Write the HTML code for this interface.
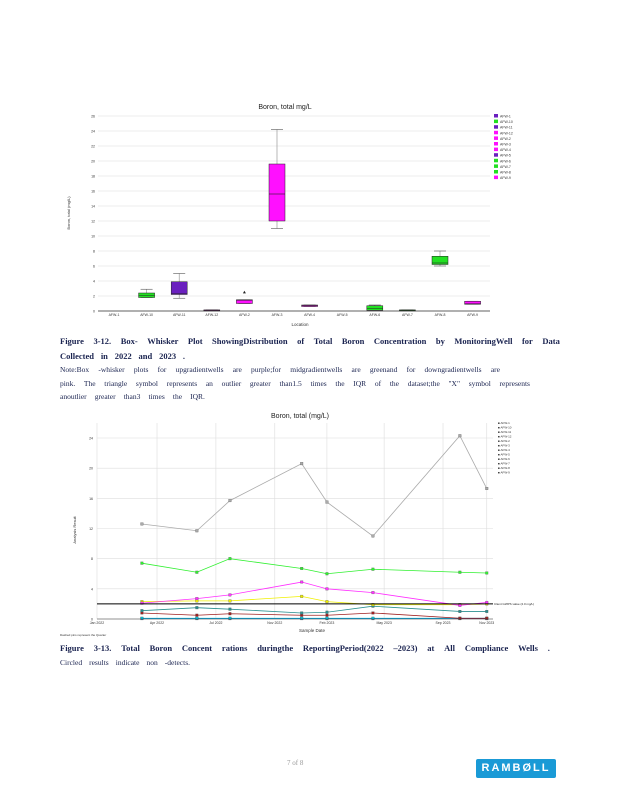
<!DOCTYPE html>
<html><head><meta charset="utf-8">
<style>
body{margin:0;background:#fff;}
#page{position:relative;width:618px;height:800px;overflow:hidden;background:#fff;font-family:"Liberation Serif",serif;color:#1a2350;}
.line{position:absolute;left:60px;width:500px;display:flex;justify-content:space-between;font-size:7.5px;white-space:nowrap;}
.cap{font-weight:bold;font-size:8.5px;}
svg text{font-family:"Liberation Sans",sans-serif;}
</style></head>
<body>
<div id="page">
<svg id="c1" width="618" height="800" style="position:absolute;left:0;top:0"></svg>

<div class="line cap" style="top:336px"><span>Figure</span><span>3-12.</span><span>Box-</span><span>Whisker</span><span>Plot</span><span>ShowingDistribution</span><span>of</span><span>Total</span><span>Boron</span><span>Concentration</span><span>by</span><span>MonitoringWell</span><span>for</span><span>Data</span></div>
<div class="line cap" style="top:351px;width:125px"><span>Collected</span><span>in</span><span>2022</span><span>and</span><span>2023</span><span>.</span></div>
<div class="line" style="top:365px;width:440px"><span>Note:Box</span><span>-whisker</span><span>plots</span><span>for</span><span>upgradientwells</span><span>are</span><span>purple;for</span><span>midgradientwells</span><span>are</span><span>greenand</span><span>for</span><span>downgradientwells</span><span>are</span></div>
<div class="line" style="top:379px;width:470px"><span>pink.</span><span>The</span><span>triangle</span><span>symbol</span><span>represents</span><span>an</span><span>outlier</span><span>greater</span><span>than1.5</span><span>times</span><span>the</span><span>IQR</span><span>of</span><span>the</span><span>dataset;the</span><span>"X"</span><span>symbol</span><span>represents</span></div>
<div class="line" style="top:392px;width:145px"><span>anoutlier</span><span>greater</span><span>than3</span><span>times</span><span>the</span><span>IQR.</span></div>

<div class="line cap" style="top:643px;width:490px"><span>Figure</span><span>3-13.</span><span>Total</span><span>Boron</span><span>Concent</span><span>rations</span><span>duringthe</span><span>ReportingPeriod(2022</span><span>–2023)</span><span>at</span><span>All</span><span>Compliance</span><span>Wells</span><span>.</span></div>
<div class="line" style="top:658px;width:130px"><span>Circled</span><span>results</span><span>indicate</span><span>non</span><span>-detects.</span></div>

<div style="position:absolute;left:287px;top:759px;font-size:7px;color:#999">7 of 8</div>
<div style="position:absolute;left:476px;top:759px;width:80px;height:19px;background:#1a9ad6;border-radius:2px;color:#fff;font:bold 11px 'Liberation Sans',sans-serif;letter-spacing:2px;text-align:center;line-height:19px">RAMBØLL</div>
</div>
<script>
// ===== Chart 1 data =====
const boxCats=["AFW-1","AFW-10","AFW-11","AFW-12","AFW-2","AFW-3","AFW-4","AFW-5","AFW-6","AFW-7","AFW-8","AFW-9"];
const boxQ1=[null,1.8,2.2,0.05,1.0,12.0,0.6,null,0.1,0.05,6.2,0.9];
const boxMed=[null,2.1,2.3,0.1,1.4,15.6,0.7,null,0.3,0.1,6.4,1.0];
const boxQ3=[null,2.4,3.9,0.15,1.5,19.6,0.8,null,0.7,0.15,7.3,1.3];
const boxMin=[null,1.8,1.7,0.05,1.0,11.0,0.6,null,0.1,0.05,6.0,0.9];
const boxMax=[null,2.9,5.0,0.15,1.5,24.2,0.8,null,0.8,0.15,8.0,1.3];
const boxOut=[null,null,null,null,2.5,null,null,null,null,null,null,null];
const boxColors=["#6a1fbf","#22e022","#6a1fbf","#ff10ff","#ff10ff","#ff10ff","#ff10ff","#6a1fbf","#22e022","#22e022","#22e022","#ff10ff"];
const boxTicks=[0,2,4,6,8,10,12,14,16,18,20,22,24,26];
const legend1=["AFW-1","AFW-10","AFW-11","AFW-12","AFW-2","AFW-3","AFW-4","AFW-5","AFW-6","AFW-7","AFW-8","AFW-9"];
const legend1Colors=["#6a1fbf","#22e022","#6a1fbf","#ff10ff","#ff10ff","#ff10ff","#ff10ff","#6a1fbf","#22e022","#22e022","#22e022","#ff10ff"];

// ===== Chart 2 data =====
const dates=["2022-03-22","2022-06-28","2022-08-26","2023-01-01","2023-02-15","2023-05-08","2023-10-10","2023-11-27"];
const sGrey=[12.6,11.7,15.7,20.6,15.5,11.0,24.3,17.3];
const sGreen=[7.4,6.2,8.0,6.7,6.0,6.6,6.2,6.1];
const sMagenta=[2.1,2.7,3.2,4.9,4.0,3.5,1.8,2.2];
const sYellow=[2.3,2.4,2.4,3.0,2.3,1.9,1.9,2.0];
const sTeal=[1.1,1.5,1.3,0.8,0.9,1.7,1.0,1.0];
const sDarkRed=[0.8,0.5,0.7,0.5,0.5,0.8,0.1,0.1];
const sCyan=[0.1,0.1,0.1,0.1,0.1,0.1,0.1,0.1];
const sBlue=[0.05,0.05,0.05,0.05,0.05,0.05,0.05,0.05];
const lineTicks=[0,4,8,12,16,20,24];
const xTickLabels=["Jan 2022","Apr 2022","Jul 2022","Nov 2022","Feb 2023","May 2023","Sep 2023","Nov 2023"];
const xTickDates=["2022-01-01","2022-04-18","2022-08-01","2022-11-14","2023-02-15","2023-05-28","2023-09-10","2023-11-27"];
const gwps=[2.0];
const legend2=["AFW-1","AFW-10","AFW-11","AFW-12","AFW-2","AFW-3","AFW-4","AFW-5","AFW-6","AFW-7","AFW-8","AFW-9"];

const NS="http://www.w3.org/2000/svg";
const svg=document.getElementById('c1');
function el(t,a,txt){const e=document.createElementNS(NS,t);for(const k in a)e.setAttribute(k,a[k]);if(txt!=null)e.textContent=txt;svg.appendChild(e);return e;}

const y1=v=>311-v*(311-116)/26;
const x1=i=>114+i*32.6;
let t=el('text',{x:285,y:109,'font-size':7,'text-anchor':'middle',fill:'#222'},'Boron, total mg/L');

boxTicks.forEach(v=>{
 let g=el('line',{x1:98,x2:490,y1:y1(v),y2:y1(v),stroke:'#ddd','stroke-width':0.6});
 
 let l=el('text',{x:95,y:y1(v)+1.5,'font-size':3.5,'text-anchor':'end',fill:'#333'},v);
 
});
let ax=el('line',{x1:98,x2:490,y1:311,y2:311,stroke:'#333','stroke-width':0.7});

t=el('text',{x:70,y:213,'font-size':4,fill:'#333',transform:'rotate(-90 70 213)','text-anchor':'middle'},'Boron, total (mg/L)');

t=el('text',{x:300,y:326,'font-size':4.5,fill:'#333','text-anchor':'middle'},'Location');

boxCats.forEach((c,i)=>{
 const x=x1(i);
 let l=el('text',{x:x,y:316,'font-size':3.5,'text-anchor':'middle',fill:'#333'},c);
 
 if(boxQ1[i]==null)return;
 let w=el('line',{x1:x,x2:x,y1:y1(boxMin[i]),y2:y1(boxMax[i]),stroke:'#888','stroke-width':0.6});
 
 [boxMin[i],boxMax[i]].forEach(v=>{let c2=el('line',{x1:x-6,x2:x+6,y1:y1(v),y2:y1(v),stroke:'#555','stroke-width':0.6});});
 let h=Math.max(1,y1(boxQ1[i])-y1(boxQ3[i]));
 let b=el('rect',{x:x-8,y:y1(boxQ3[i]),width:16,height:h,fill:boxColors[i],stroke:'#222','stroke-width':0.5});
 
 let m=el('line',{x1:x-8,x2:x+8,y1:y1(boxMed[i]),y2:y1(boxMed[i]),stroke:'#222','stroke-width':0.6});
 
 if(boxOut[i]!=null){let o=el('path',{d:`M${x} ${y1(boxOut[i])-1.5}l1.5 2.6h-3z`,fill:'#222'});}
});
legend1.forEach((n,i)=>{
 let r=el('rect',{x:494,y:114+i*5.6,width:4,height:3.5,fill:legend1Colors[i]});
 
 let l=el('text',{x:500,y:117.5+i*5.6,'font-size':3.5,fill:'#333'},n);
 
});

const d0=new Date("2022-01-01").getTime(),d1=new Date("2023-12-01").getTime();
const x2=d=>97+(new Date(d).getTime()-d0)/(d1-d0)*(489-97);
const y2=v=>619-v*(619-438)/24;
t=el('text',{x:300,y:418,'font-size':7,'text-anchor':'middle',fill:'#222'},'Boron, total (mg/L)');

lineTicks.forEach(v=>{
 let g=el('line',{x1:97,x2:493,y1:y2(v),y2:y2(v),stroke:'#ddd','stroke-width':0.6});
 
 let l=el('text',{x:93,y:y2(v)+1.5,'font-size':3.5,'text-anchor':'end',fill:'#333'},v);
 
});
xTickDates.forEach((d,i)=>{
 let g=el('line',{x1:x2(d),x2:x2(d),y1:423,y2:619,stroke:'#ddd','stroke-width':0.6});
 
 let l=el('text',{x:x2(d),y:624,'font-size':3.5,'text-anchor':'middle',fill:'#333'},xTickLabels[i]);
 
});
t=el('text',{x:76,y:530,'font-size':4,fill:'#333',transform:'rotate(-90 76 530)','text-anchor':'middle'},'Analysis Result');

t=el('text',{x:312,y:632,'font-size':4.5,fill:'#333','text-anchor':'middle'},'Sample Date');

t=el('text',{x:60,y:636,'font-size':3,fill:'#333'},'Dashed pins represent the Quarter');

const series=[[sBlue,'#4040c0'],[sCyan,'#00c8e0'],[sDarkRed,'#a02020'],[sTeal,'#2a9090'],[sYellow,'#f0f000'],[sMagenta,'#ff30ff'],[sGreen,'#30f030'],[sGrey,'#aaaaaa']];
series.forEach(([vals,col],k)=>{
 let p=el('polyline',{points:vals.map((v,i)=>x2(dates[i])+','+y2(v)).join(' '),fill:'none',stroke:col,'stroke-width':0.8});
 
 vals.forEach((v,i)=>{let c=el('rect',{x:x2(dates[i])-1.3,y:y2(v)-1.3,width:2.6,height:2.6,fill:col,stroke:'#555','stroke-width':0.3});});
});
let gl=el('line',{x1:97,x2:493,y1:y2(gwps[0]),y2:y2(gwps[0]),stroke:'#000','stroke-width':1});

t=el('text',{x:494,y:y2(gwps[0])+1,'font-size':3,fill:'#222'},'Client GWPS value (2.0 mg/L)');

let ax2=el('line',{x1:97,x2:493,y1:619,y2:619,stroke:'#333','stroke-width':0.6});

legend2.forEach((n,i)=>{
 let l=el('text',{x:498,y:424+i*4.5,'font-size':3,fill:'#333'},'■ '+n);
 
});
</script>
</body></html>
